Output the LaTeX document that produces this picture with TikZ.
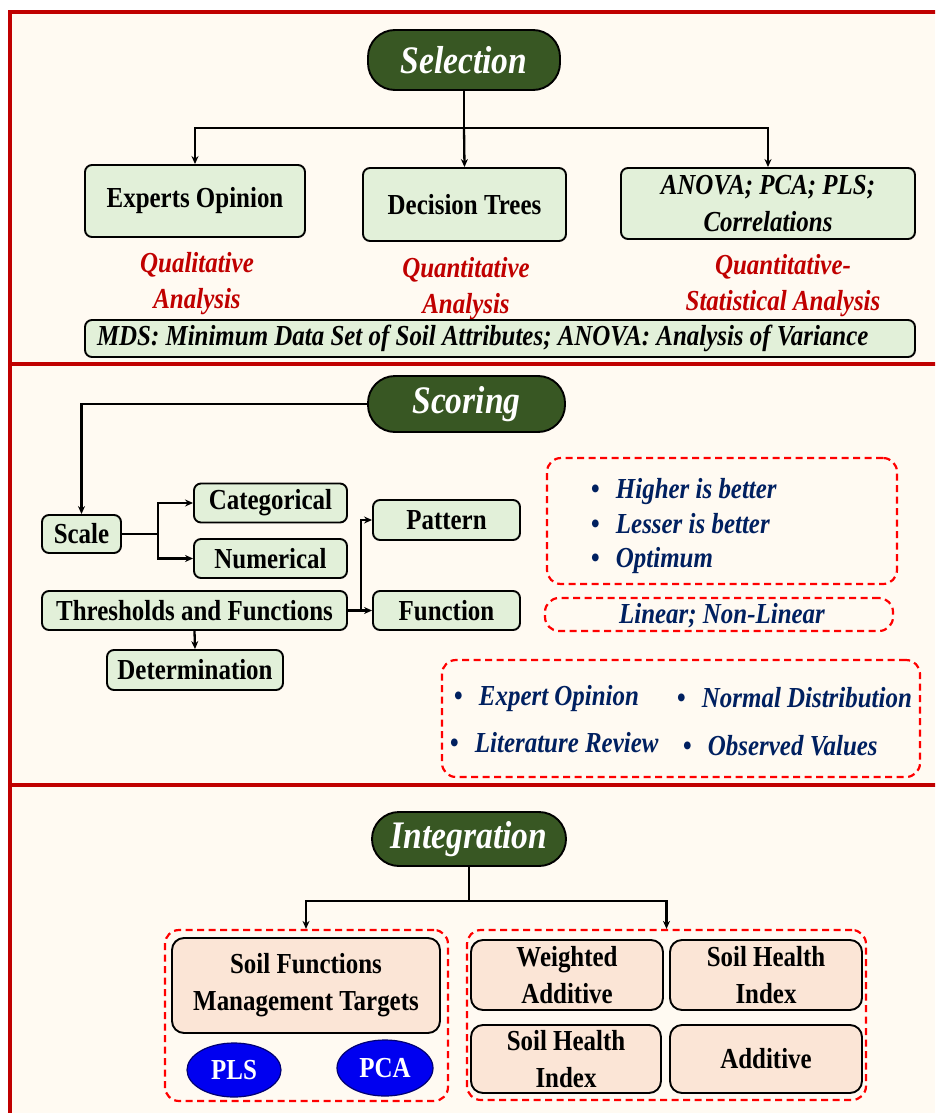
\documentclass[tikz,border=0pt]{standalone}
\usepackage{fontspec}
\setmainfont{Liberation Serif}[FakeStretch=0.86]
\usetikzlibrary{
  arrows.meta,
  shapes.geometric,  % ellipse
}
\definecolor{paper}{HTML}{FFFAF2}
\definecolor{framered}{HTML}{C00000}
\definecolor{pillgreen}{HTML}{385723}
\definecolor{boxgreen}{HTML}{E2F0D9}
\definecolor{boxpeach}{HTML}{FBE5D6}
\definecolor{notered}{HTML}{C00000}
\definecolor{dashred}{HTML}{FF0000}
\definecolor{navy}{HTML}{002060}
\definecolor{ovalblue}{HTML}{0000F0}
\def\mybullet{\makebox[25pt][l]{\textbullet}}
\tikzset{
  font=\fontsize{29}{36}\selectfont\bfseries,
  >={Stealth[length=8pt,width=7pt]},
  frame/.style={
    draw=framered,
    line width=3.5pt
  },
  head/.style={
    draw=black,
    fill=pillgreen,
    text=white,
    rounded corners=27pt,
    inner sep=0pt,
    font=\fontsize{39}{44}\selectfont\bfseries\itshape
  },
  green box/.style={
    draw=black,
    fill=boxgreen,
    rounded corners=7pt,
    inner sep=0pt,
    align=center
  },
  peach box/.style={
    green box,
    fill=boxpeach,
    rounded corners=12pt
  },
  red note/.style={
    text=notered,
    align=center,
    inner sep=0pt,
    font=\fontsize{29}{36}\selectfont\bfseries\itshape
  },
  dash box/.style={
    draw=dashred,
    line width=2.2pt,
    dash pattern=on 7pt off 4.5pt,
    rounded corners=14pt
  },
  item/.style={
    text=navy,
    anchor=base west,
    inner sep=0pt,
    font=\fontsize{29}{36}\selectfont\bfseries\itshape
  },
  oval/.style={
    ellipse,
    draw=blue!45!black,
    line width=1.2pt,
    fill=ovalblue,
    text=white,
    inner sep=0pt
  },
  link/.style={
    line width=2.3pt
  }
}
\begin{document}
\begin{tikzpicture}[x=1pt,y=-1pt,line width=1.9pt]
\useasboundingbox (0,0) rectangle (935,1113);
\clip (0,0) rectangle (935,1113);
\fill[white] (0,0) rectangle (935,1113);
\fill[paper] (10,12) rectangle (935,1113);
\draw[frame] (940,12) -| (10,1120);
\draw[frame] (10,364) -- (940,364);
\draw[frame] (10,785) -- (940,785);

% Selection
\node[head,minimum width=192pt,minimum height=60pt] (sel) at (464,60) {Selection};
\node[green box,minimum width=220pt,minimum height=72pt] (expert) at (195,201) {Experts Opinion};
\node[green box,minimum width=203pt,minimum height=73pt] (dtree)  at (464.5,204.5) {Decision Trees};
\node[green box,minimum width=294pt,minimum height=71pt,font=\fontsize{29}{37}\selectfont\bfseries\itshape]
  (stats) at (768,203.5) {ANOVA; PCA; PLS;\\Correlations};
\node[red note] (qual)  at (197,283.5) {Qualitative\\Analysis};
\node[red note] (quant) at (466,288.5) {Quantitative\\Analysis};
\node[red note] (qstat) at (783,285.5) {Quantitative-\\Statistical Analysis};
\node[green box,minimum height=37pt,minimum width=830pt,
  font=\fontsize{29}{36}\selectfont\bfseries\itshape]
  (mds) at (500,338.5) {\makebox[806pt][l]{MDS: Minimum Data Set of Soil Attributes; ANOVA: Analysis of Variance}};
\draw[link] (sel.south) -- ++(0,37) coordinate (selhub);
\draw[link,->] (selhub) -| (expert.north);
\draw[link,->] (selhub) -- (dtree.north);
\draw[link,->] (selhub) -| (stats.north);

% Scoring
\node[head,minimum width=197pt,minimum height=56pt] (scor) at (466.5,404) {Scoring};
\node[green box,minimum width=79pt,minimum height=38pt]  (scale)   at (81.5,534)   {Scale};
\node[green box,minimum width=153pt,minimum height=39pt] (categ)   at (270.5,503)  {Categorical};
\node[green box,minimum width=153pt,minimum height=39pt] (numer)   at (270.5,558.5) {Numerical};
\node[green box,minimum width=305pt,minimum height=39pt] (thresh)  at (194.5,610.5) {Thresholds and Functions};
\node[green box,minimum width=147pt,minimum height=40pt] (pattern) at (446.5,520)  {Pattern};
\node[green box,minimum width=147pt,minimum height=39pt] (func)    at (446.5,610.5) {Function};
\node[green box,minimum width=176pt,minimum height=40pt] (determ)  at (195,670)    {Determination};
\draw[link,->] (scor.west) -| (scale.north);
\draw[link,->] (scale.east) -- ++(36,0) |- (categ.west);
\draw[link,->] (scale.east) -- ++(36,0) |- (numer.west);
\draw[link,->] (thresh.east) -- (func.west);
\draw[link,->] (thresh.east) -- ++(13,0) |- (pattern.west);
\draw[link,->] (thresh.south) -- (determ.north);

\node[dash box,minimum width=350pt,minimum height=126pt] (crit) at (722,521) {};
\node[item] (crit1) at (590,498) {\mybullet Higher is better};
\node[item] (crit2) at (590,533) {\mybullet Lesser is better};
\node[item] (crit3) at (590,567) {\mybullet Optimum};
\node[dash box,minimum width=348pt,minimum height=33pt] (lin) at (719,614.5) {};
\node[item,anchor=base] (lintxt) at (722,623) {Linear; Non-Linear};
\node[dash box,minimum width=478pt,minimum height=117pt] (src) at (681,718.5) {};
\node[item] (src1) at (453,705) {\mybullet Expert Opinion};
\node[item] (src2) at (676,707) {\mybullet Normal Distribution};
\node[item] (src3) at (449,752) {\mybullet Literature Review};
\node[item] (src4) at (682,755) {\mybullet Observed Values};

% Integration
\node[head,minimum width=194pt,minimum height=54pt] (integ) at (469,839) {Integration};
\node[dash box,minimum width=283pt,minimum height=171pt] (left)  at (306.5,1015.5) {};
\node[dash box,minimum width=399pt,minimum height=170pt] (right) at (666.5,1015) {};
\node[peach box,minimum width=268pt,minimum height=95pt,font=\fontsize{29}{37}\selectfont\bfseries]
  (sfmt) at (306,985.5) {Soil Functions\\Management Targets};
\node[oval,minimum width=94pt,minimum height=54pt] (pls) at (234,1070) {PLS};
\node[oval,minimum width=96pt,minimum height=56pt] (pca) at (385,1068) {PCA};
\node[peach box,minimum width=192pt,minimum height=70pt,font=\fontsize{29}{37}\selectfont\bfseries]
  (wadd) at (567,975) {Weighted\\Additive};
\node[peach box,minimum width=192pt,minimum height=70pt,font=\fontsize{29}{37}\selectfont\bfseries]
  (shi1) at (766,975) {Soil Health\\Index};
\node[peach box,minimum width=190pt,minimum height=68pt,font=\fontsize{29}{37}\selectfont\bfseries]
  (shi2) at (566,1059) {Soil Health\\Index};
\node[peach box,minimum width=192pt,minimum height=68pt] (add) at (766,1059) {Additive};
\draw[link] (integ.south) -- ++(0,34) coordinate (inthub);
\draw[link,->] (inthub) -| (left.north -| sfmt.north);
\draw[link,->] (inthub) -| (right.north);
\end{tikzpicture}
\end{document}
